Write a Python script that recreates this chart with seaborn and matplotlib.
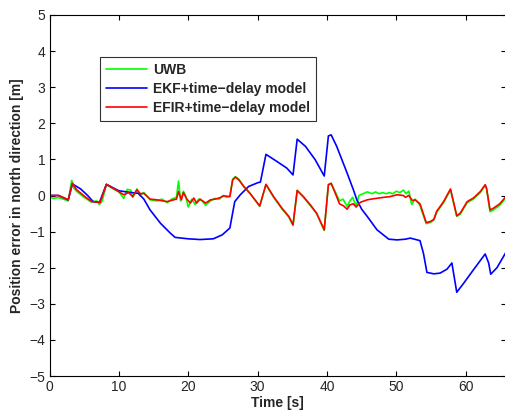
import numpy as np
import pandas as pd
import matplotlib
matplotlib.use('Agg')
import matplotlib.pyplot as plt
import seaborn as sns

# UWB measurement error (green)
uwb_t = [0, 0.5, 1.3, 2.0, 2.7, 3.2, 3.5, 4.0, 5.0, 6.0, 6.8, 7.2, 7.6, 8.2, 9.0,
         10.0, 10.7, 11.2, 11.7, 12.0, 12.6, 13.0, 13.6, 14.5, 15.5, 16.2, 17.0,
         17.6, 18.3, 18.6, 18.9, 19.3, 19.6, 20.0, 20.5, 21.0, 21.5, 22.0, 22.5,
         23.2, 23.8, 24.5, 25.0, 25.5, 26.0, 26.4, 26.8, 27.3, 28.0, 28.9, 30.3,
         31.2, 32.3, 33.5, 34.5, 35.1, 35.7, 36.6, 37.6, 38.5, 39.6, 40.2, 40.6,
         41.2, 41.8, 42.3, 42.9, 43.3, 43.7, 44.2, 44.6, 45.2, 45.8, 46.5, 47.0,
         47.5, 48.0, 48.5, 49.0, 49.5, 50.0, 50.5, 51.0, 51.4, 51.8, 52.2, 52.7,
         53.4, 53.7, 54.3, 54.9, 55.4, 55.8, 56.8, 57.8, 58.7, 59.2, 60.2, 61.1,
         62.1, 62.8, 63.0, 63.5, 64.0, 64.9, 65.8]
uwb_e = [-0.02, -0.08, -0.06, -0.1, -0.15, 0.42, 0.2, 0.1, -0.05, -0.18, -0.15,
         -0.25, -0.15, 0.3, 0.2, 0.1, -0.08, 0.17, 0.15, -0.05, 0.18, 0.0, 0.08,
         -0.12, -0.15, -0.1, -0.2, -0.1, -0.05, 0.4, -0.15, 0.12, 0.0, -0.32,
         -0.1, -0.25, -0.1, -0.15, -0.27, -0.15, -0.08, -0.1, 0.0, -0.05, -0.02,
         0.45, 0.52, 0.45, 0.25, 0.06, -0.3, 0.3, -0.05, -0.37, -0.6, -0.83, 0.14,
         -0.05, -0.28, -0.5, -0.97, 0.3, 0.32, 0.1, -0.15, -0.1, -0.3, -0.15,
         -0.05, -0.3, 0.0, 0.05, 0.1, 0.05, 0.1, 0.05, 0.08, 0.05, 0.08, 0.05,
         0.12, 0.08, 0.15, 0.05, 0.12, -0.25, -0.1, -0.27, -0.45, -0.78, -0.75,
         -0.68, -0.47, -0.2, 0.16, -0.58, -0.52, -0.2, -0.1, 0.08, 0.28, 0.18,
         -0.45, -0.4, -0.27, -0.06]

# EKF + time-delay model (blue)
ekf_t = [0, 1.3, 2.7, 3.3, 4.5, 5.5, 6.3, 7.2, 8.2, 10.0, 11.9, 12.8, 13.6,
         14.5, 16.0, 17.4, 18.1, 20.0, 21.7, 23.6, 24.9, 26.0, 26.7, 27.5, 28.7,
         30.1, 30.4, 31.2, 32.8, 34.2, 35.1, 35.7, 36.9, 38.3, 39.6, 40.2, 40.6,
         41.4, 42.9, 43.8, 44.3, 45.0, 45.8, 47.2, 48.9, 50.1, 51.3, 52.0, 53.4,
         53.9, 54.4, 55.4, 56.3, 57.3, 58.0, 58.7, 59.7, 61.1, 62.8, 63.3, 63.6,
         64.5, 65.8]
ekf_e = [0.0, 0.0, -0.12, 0.32, 0.18, 0.0, -0.17, -0.19, 0.31, 0.13, 0.08, 0.06,
         -0.1, -0.4, -0.77, -1.04, -1.16, -1.2, -1.22, -1.2, -1.09, -0.9, -0.17,
         0.02, 0.25, 0.36, 0.37, 1.14, 0.94, 0.76, 0.57, 1.56, 1.36, 0.99, 0.54,
         1.65, 1.68, 1.36, 0.62, 0.16, -0.12, -0.38, -0.58, -0.95, -1.21, -1.23,
         -1.21, -1.18, -1.25, -1.6, -2.13, -2.17, -2.15, -2.04, -1.87, -2.68,
         -2.43, -2.06, -1.62, -1.87, -2.18, -2.0, -1.57]

# EFIR + time-delay model (red)
efir_t = [0, 1.3, 2.7, 3.3, 3.9, 5.1, 6.1, 7.3, 8.2, 9.2, 10.7, 11.4, 12.0,
          12.6, 13.1, 13.6, 14.5, 15.5, 16.9, 17.5, 17.9, 18.3, 18.6, 19.0,
          19.3, 19.8, 20.3, 20.8, 21.2, 21.7, 22.5, 23.2, 23.9, 24.6, 25.1,
          26.0, 26.4, 26.8, 27.3, 28.0, 28.9, 30.3, 31.2, 32.3, 33.5, 34.5,
          35.1, 35.7, 36.6, 37.6, 38.5, 39.6, 40.2, 40.6, 41.2, 41.8, 42.4,
          42.9, 43.3, 43.8, 44.2, 44.8, 45.8, 46.7, 48.2, 49.1, 50.1, 51.0,
          51.3, 51.8, 52.3, 52.7, 53.4, 53.7, 54.3, 54.9, 55.4, 55.8, 56.8,
          57.8, 58.7, 59.2, 60.2, 61.1, 62.1, 62.8, 63.0, 63.5, 64.0, 64.9, 65.8]
efir_e = [0.0, 0.0, -0.12, 0.34, 0.16, -0.03, -0.17, -0.19, 0.31, 0.2, 0.02,
          0.08, -0.03, 0.16, 0.05, 0.06, -0.1, -0.12, -0.17, -0.14, -0.12,
          -0.1, 0.11, -0.12, 0.08, -0.1, -0.21, -0.07, -0.21, -0.1, -0.21,
          -0.12, -0.1, -0.06, -0.01, -0.03, 0.43, 0.51, 0.43, 0.25, 0.06,
          -0.29, 0.31, -0.03, -0.35, -0.58, -0.81, 0.14, -0.03, -0.26, -0.49,
          -0.95, 0.3, 0.34, 0.06, -0.23, -0.29, -0.38, -0.26, -0.23, -0.32,
          -0.19, -0.12, -0.09, -0.05, -0.03, 0.02, 0.0, -0.05, 0.0, -0.14,
          -0.12, -0.23, -0.4, -0.75, -0.72, -0.66, -0.44, -0.17, 0.18, -0.56,
          -0.49, -0.17, -0.07, 0.11, 0.3, 0.2, -0.4, -0.35, -0.23, -0.03]

labels = ['UWB', 'EKF+time\u2212delay model', 'EFIR+time\u2212delay model']
colors = ['#00ff00', '#0000ff', '#ff0000']

df = pd.concat([
    pd.DataFrame({'t': uwb_t, 'err': uwb_e, 'series': labels[0]}),
    pd.DataFrame({'t': ekf_t, 'err': ekf_e, 'series': labels[1]}),
    pd.DataFrame({'t': efir_t, 'err': efir_e, 'series': labels[2]}),
])

sns.set_style('ticks')
plt.rcParams['font.family'] = ['Liberation Sans', 'DejaVu Sans']

fig = plt.figure(figsize=(5.06, 4.12), dpi=100)
ax = fig.add_axes([49.5 / 506, 1 - 376 / 412, 1 - 49.5 / 506, (376 - 15) / 412])

sns.lineplot(data=df, x='t', y='err', hue='series', hue_order=labels,
             palette=colors, estimator=None, sort=False, linewidth=1.2, ax=ax)

ax.set_xlim(0, 65.8)
ax.set_ylim(-5, 5)
ax.set_xticks(np.arange(0, 61, 10))
ax.set_yticks(np.arange(-5, 6, 1))
ax.tick_params(direction='in', length=3.5, width=0.8, top=True, right=True,
               labelsize=10, color='black', pad=3)
for s in ['left', 'bottom', 'top']:
    ax.spines[s].set_color('black')
    ax.spines[s].set_linewidth(0.8)
ax.spines['right'].set_visible(False)

ax.set_xlabel('Time [s]', fontsize=10, fontweight='bold', labelpad=1)
ax.set_ylabel('Position error in north direction [m]', fontsize=10,
              fontweight='bold', labelpad=4)

leg = ax.legend(loc='upper left', bbox_to_anchor=(0.1106, 0.8837),
                borderaxespad=0, frameon=True, fancybox=False,
                handlelength=2.9, handletextpad=0.45, labelspacing=0.35,
                borderpad=0.45, prop={'size': 10, 'weight': 'bold'})
leg.get_frame().set_edgecolor('black')
leg.get_frame().set_linewidth(0.8)
for line in leg.get_lines():
    line.set_linewidth(1.2)

fig.savefig('out.png', dpi=100)
